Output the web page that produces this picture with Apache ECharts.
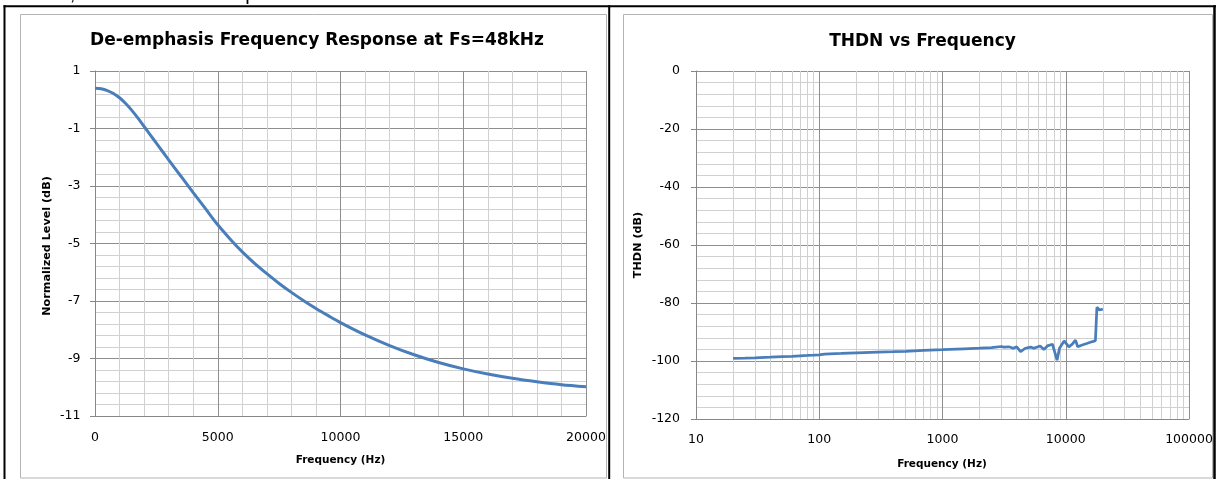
<!DOCTYPE html>
<html>
<head>
<meta charset="utf-8">
<script src="https://cdn.jsdelivr.net/npm/echarts@6/dist/echarts.min.js"></script>
<style>
html,body{margin:0;padding:0;background:#ffffff;}
#c{width:1216px;height:479px;}
</style>
</head>
<body>
<div id="c"></div>
<script>
// ---- Data: De-emphasis frequency response (Fs = 48 kHz) ----
const deFreq = [0,250,500,750,1000,1250,1500,1750,2000,2250,2500,2750,3000,3500,4000,4500,5000,5500,6000,6500,7000,7500,8000,8500,9000,9500,10000,11000,12000,13000,14000,15000,16000,17000,18000,19000,20000];
const deLevel = [0.40,0.38,0.32,0.22,0.07,-0.13,-0.37,-0.64,-0.93,-1.22,-1.51,-1.80,-2.09,-2.66,-3.23,-3.79,-4.35,-4.84,-5.29,-5.69,-6.05,-6.39,-6.70,-6.99,-7.26,-7.51,-7.75,-8.18,-8.55,-8.87,-9.14,-9.36,-9.54,-9.69,-9.81,-9.91,-9.98];

// ---- Data: THD+N vs frequency ----
const thdnFreq = [20,25,30,40,50,60,70,80,90,100,110,150,200,300,400,500,700,1000,1500,2000,2500,3000,3150,3450,3750,4000,4300,4700,5200,5500,6200,6650,7100,7800,8500,8900,9700,10600,11300,12000,12500,13600,15000,16500,17400,17900,18800,20000];
const thdnLevel = [-99.1,-99.0,-98.9,-98.7,-98.5,-98.4,-98.2,-98.1,-98.0,-97.9,-97.6,-97.4,-97.2,-96.9,-96.8,-96.7,-96.3,-96.1,-95.8,-95.6,-95.4,-95.0,-95.2,-95.1,-95.6,-95.1,-96.8,-95.6,-95.2,-95.6,-94.8,-96.0,-94.8,-94.2,-99.7,-95.6,-93.1,-95.1,-94.2,-92.8,-95.1,-94.5,-93.9,-93.3,-93.0,-81.5,-82.4,-82.1];

// Log-axis minor grid values (2..9 of each decade)
const logMinorGrid = [20,30,40,50,60,70,80,90,200,300,400,500,600,700,800,900,2000,3000,4000,5000,6000,7000,8000,9000,20000,30000,40000,50000,60000,70000,80000,90000];

// Text
const titleLeft = 'De-emphasis Frequency Response at Fs=48kHz';
const titleRight = 'THDN vs Frequency';
const xNameLeft = 'Frequency (Hz)';
const yNameLeft = 'Normalized Level (dB)';
const xNameRight = 'Frequency (Hz)';
const yNameRight = 'THDN (dB)';
const headerText = '25\u00B0C, unless otherwise specified.';

const FONT = 'DejaVu Sans';
const LINE_COLOR = '#4A7EBB';
const MAJOR = '#8E8E8E';
const MINOR = '#D0D0D0';
const AXIS = '#878787';

const tickLabel = (margin) => ({
  margin: margin, fontSize: 12.5, fontFamily: FONT, color: '#000',
  formatter: v => String(Math.round(v * 1000) / 1000)
});

function txt(x, y, text, font, rot) {
  return {
    type: 'text', x: x, y: y, rotation: rot || 0, silent: true,
    style: { text: text, font: font, fill: '#000',
      align: 'center', verticalAlign: 'middle', textAlign: 'center', textVerticalAlign: 'middle' }
  };
}
function ln(x1, y1, x2, y2, color, w) {
  return { type: 'line', silent: true, shape: { x1: x1, y1: y1, x2: x2, y2: y2 },
    style: { stroke: color, lineWidth: w } };
}

const chart = echarts.init(document.getElementById('c'), null, { renderer: 'canvas' });

chart.setOption({
  animation: false,
  backgroundColor: '#ffffff',
  grid: [
    { left: 95, top: 71, width: 491, height: 345 },
    { left: 696, top: 71, width: 493, height: 348 }
  ],
  xAxis: [
    {
      gridIndex: 0, type: 'value', min: 0, max: 20000, interval: 5000,
      axisLine: { show: true, onZero: false, lineStyle: { color: AXIS, width: 1 } },
      axisTick: { show: false },
      axisLabel: tickLabel(15),
      splitLine: { show: true, lineStyle: { color: MAJOR, width: 1 } },
      minorTick: { show: false, splitNumber: 5 },
      minorSplitLine: { show: true, lineStyle: { color: MINOR, width: 1 } }
    },
    {
      gridIndex: 1, type: 'log', logBase: 10, min: 10, max: 100000,
      axisLine: { show: true, onZero: false, lineStyle: { color: AXIS, width: 1 } },
      axisTick: { show: false },
      axisLabel: Object.assign(tickLabel(14.5), { formatter: v => String(Math.round(v)) }),
      splitLine: { show: true, lineStyle: { color: MAJOR, width: 1 } }
    }
  ],
  yAxis: [
    {
      gridIndex: 0, type: 'value', min: -11, max: 1, interval: 2,
      axisLine: { show: true, lineStyle: { color: AXIS, width: 1 } },
      axisTick: { show: true, length: 5, lineStyle: { color: AXIS } },
      axisLabel: tickLabel(14.5),
      splitLine: { show: true, lineStyle: { color: MAJOR, width: 1 } },
      minorTick: { show: false, splitNumber: 5 },
      minorSplitLine: { show: true, lineStyle: { color: MINOR, width: 1 } }
    },
    {
      gridIndex: 1, type: 'value', min: -120, max: 0, interval: 20,
      axisLine: { show: true, lineStyle: { color: AXIS, width: 1 } },
      axisTick: { show: true, length: 5, lineStyle: { color: AXIS } },
      axisLabel: tickLabel(16),
      splitLine: { show: true, lineStyle: { color: MAJOR, width: 1 } },
      minorTick: { show: false, splitNumber: 5 },
      minorSplitLine: { show: true, lineStyle: { color: MINOR, width: 1 } }
    }
  ],
  series: [
    {
      type: 'line', xAxisIndex: 0, yAxisIndex: 0, z: 3,
      data: deFreq.map((f, i) => [f, deLevel[i]]),
      smooth: 0.3, showSymbol: false, symbol: 'none',
      lineStyle: { color: LINE_COLOR, width: 3 }
    },
    {
      type: 'line', xAxisIndex: 1, yAxisIndex: 1, z: 3,
      data: thdnFreq.map((f, i) => [f, thdnLevel[i]]),
      smooth: false, showSymbol: false, symbol: 'none',
      lineStyle: { color: LINE_COLOR, width: 2.75 },
      markLine: {
        silent: true, z: 1, symbol: ['none', 'none'], animation: false,
        label: { show: false },
        lineStyle: { color: MINOR, width: 1, type: 'solid' },
        emphasis: { disabled: true },
        data: logMinorGrid.map(v => ({ xAxis: v }))
      }
    }
  ],
  graphic: [
    // header text (cut off at the top of the image)
    { type: 'text', x: 25, y: -5.5, silent: true,
      style: { text: headerText, font: '20px "Liberation Sans"', fill: '#000',
        align: 'left', verticalAlign: 'middle', textAlign: 'left', textVerticalAlign: 'middle' } },
    // chart-area boxes
    { type: 'rect', silent: true, shape: { x: 20.5, y: 14.5, width: 586, height: 463.5 },
      style: { fill: 'none', stroke: '#B4B4B4', lineWidth: 1 } },
    { type: 'rect', silent: true, shape: { x: 623.5, y: 14.5, width: 589, height: 463.5 },
      style: { fill: 'none', stroke: '#B4B4B4', lineWidth: 1 } },
    // black table frame
    ln(3.5, 6.3, 1216, 6.3, '#000', 2),
    ln(4.5, 5.3, 4.5, 479, '#000', 2),
    ln(609.2, 5.3, 609.2, 479, '#000', 2),
    ln(1214.5, 5.3, 1214.5, 479, '#000', 2.5),
    // titles
    txt(317, 40.8, titleLeft, 'bold 17px "DejaVu Sans"'),
    txt(922.5, 41.4, titleRight, 'bold 17px "DejaVu Sans"'),
    // axis names
    txt(340.5, 460, xNameLeft, 'bold 10.5px "DejaVu Sans"'),
    txt(942, 464, xNameRight, 'bold 10.5px "DejaVu Sans"'),
    txt(47.4, 246, yNameLeft, 'bold 11.2px "DejaVu Sans"', Math.PI / 2),
    txt(638.4, 245, yNameRight, 'bold 11.2px "DejaVu Sans"', Math.PI / 2)
  ]
});
</script>
</body>
</html>
